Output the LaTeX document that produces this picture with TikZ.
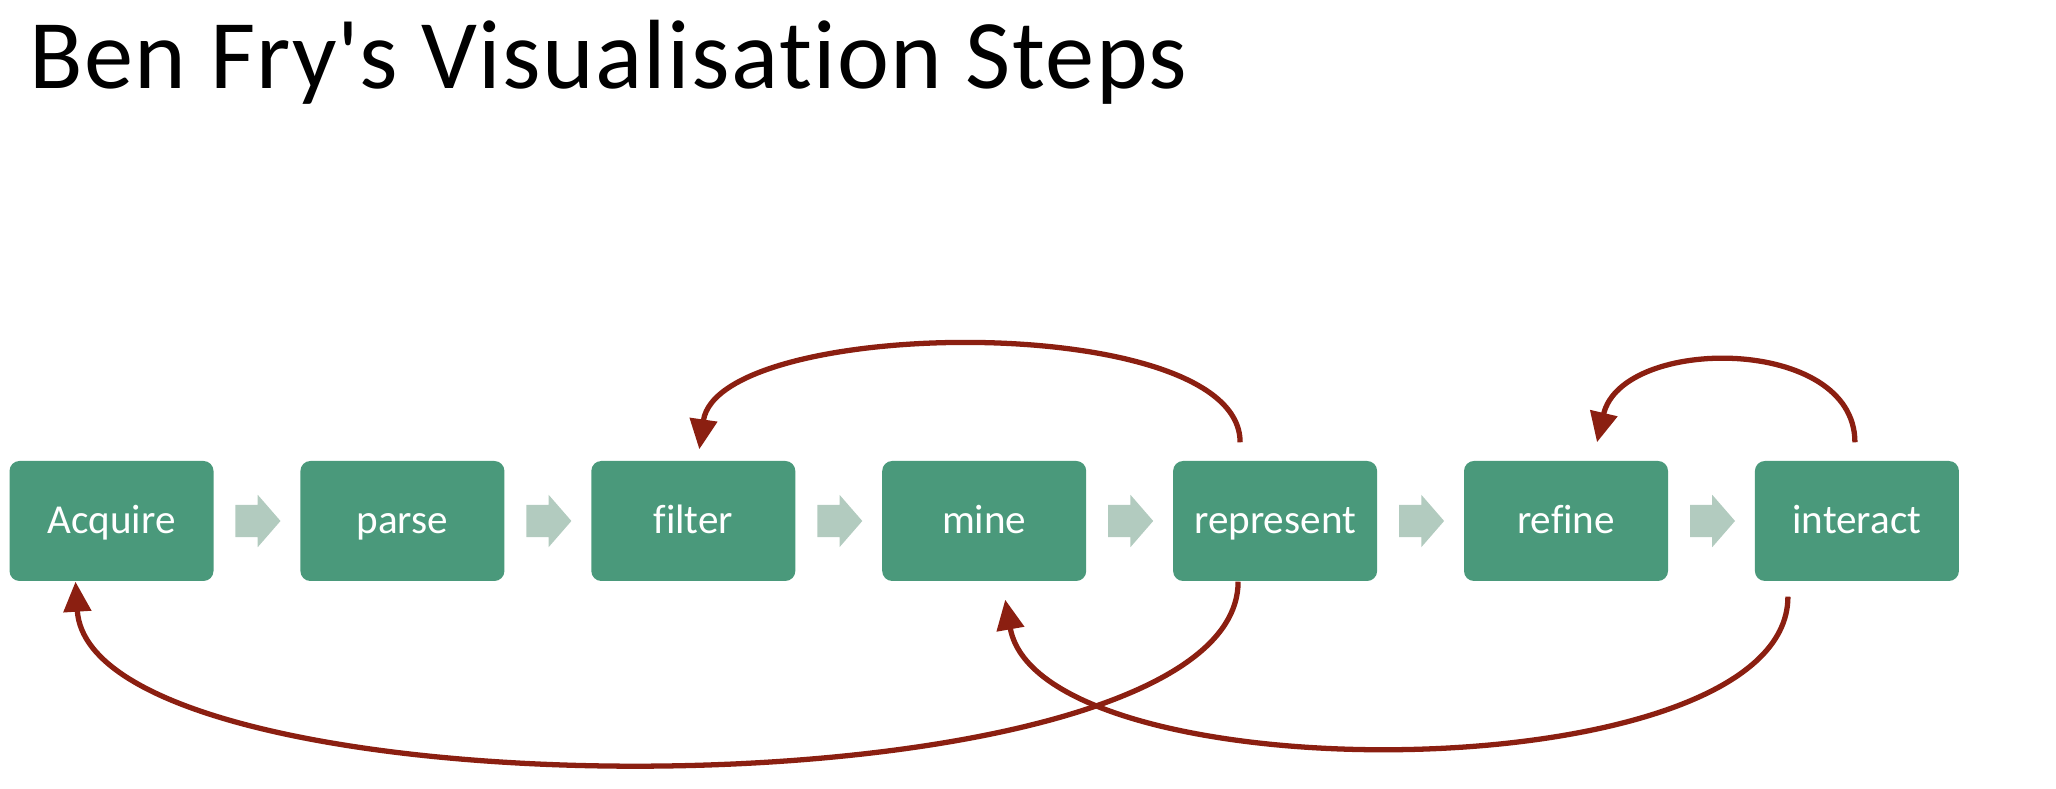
\documentclass[tikz,border=0pt]{standalone}
\usepackage{fontspec}
\setmainfont{Carlito}[Ligatures={NoCommon,NoDiscretionary,NoRare}]
\newfontfamily\titlefont{Carlito}[Ligatures={NoCommon,NoDiscretionary,NoRare},LetterSpace=1.4]
\usetikzlibrary{calc,arrows.meta,shapes.arrows}
\definecolor{stepgreen}{HTML}{4A997B}
\definecolor{chevgrey}{HTML}{B2CBBF}
\definecolor{backred}{HTML}{8B1F11}

\begin{document}
\begin{tikzpicture}[
  stepbox/.style={fill=stepgreen, rounded corners=0.1cm, minimum width=2.04cm,
    minimum height=1.2cm, inner sep=0pt, text height=7.4pt, text depth=0pt,
    text=white, font=\fontsize{11.7}{14}\selectfont},
  chevron/.style={single arrow, fill=chevgrey, inner sep=0pt, text height=0.31cm,
    text depth=0pt, minimum height=0.45cm, single arrow head extend=0.1cm,
    single arrow tip angle=98, xshift=-0.6mm},
  backarrow/.style={draw=backred, line width=1.5pt, -{Triangle[length=0.3cm,width=0.27cm]}}
]
  \useasboundingbox (0,0) rectangle (20.56,7.89);

  %--- Title ---
  \node[anchor=base west, inner sep=0pt, font=\titlefont\fontsize{28}{34}\selectfont] (title)
    at (0.29,7.00) {Ben Fry\textquotesingle s Visualisation Steps};

  %--- Steps, left to right ---
  \node[stepbox] (acquire)   at (1.115,2.68)  {Acquire};
  \node[stepbox] (parse)     at (4.024,2.68)  {parse};
  \node[stepbox] (filter)    at (6.933,2.68)  {filter};
  \node[stepbox] (mine)      at (9.842,2.68)  {mine};
  \node[stepbox] (represent) at (12.751,2.68) {represent};
  \node[stepbox] (refine)    at (15.660,2.68) {refine};
  \node[stepbox] (interact)  at (18.569,2.68) {interact};

  %--- Chevrons between the steps ---
  \node[chevron] (ch1) at ($(acquire.east)!0.5!(parse.west)$) {};
  \node[chevron] (ch2) at ($(parse.east)!0.5!(filter.west)$) {};
  \node[chevron] (ch3) at ($(filter.east)!0.5!(mine.west)$) {};
  \node[chevron] (ch4) at ($(mine.east)!0.5!(represent.west)$) {};
  \node[chevron] (ch5) at ($(represent.east)!0.5!(refine.west)$) {};
  \node[chevron] (ch6) at ($(refine.east)!0.5!(interact.west)$) {};

  %--- Feedback loops above ---
  \draw[backarrow] ([xshift=-3.5mm,yshift=1.8mm]represent.north)
    .. controls +(0,1.33) and +(0.19,1.33) .. ([xshift=0.6mm,yshift=1.1mm]filter.north);
  \draw[backarrow] ([xshift=-0.2mm,yshift=1.8mm]interact.north)
    .. controls +(0,1.07) and +(0.25,1.07) .. ([xshift=3.1mm,yshift=1.8mm]refine.north);

  %--- Feedback loops below ---
  \draw[backarrow] ([xshift=-3.7mm]represent.south)
    .. controls +(0,-2.41) and +(0.15,-2.41) .. ([xshift=-3.6mm]acquire.south);
  \draw[backarrow] ([xshift=-6.9mm,yshift=-1.5mm]interact.south)
    .. controls +(0,-1.97) and +(0.35,-1.97) .. ([xshift=2.1mm,yshift=-1.8mm]mine.south);

\end{tikzpicture}
\end{document}
